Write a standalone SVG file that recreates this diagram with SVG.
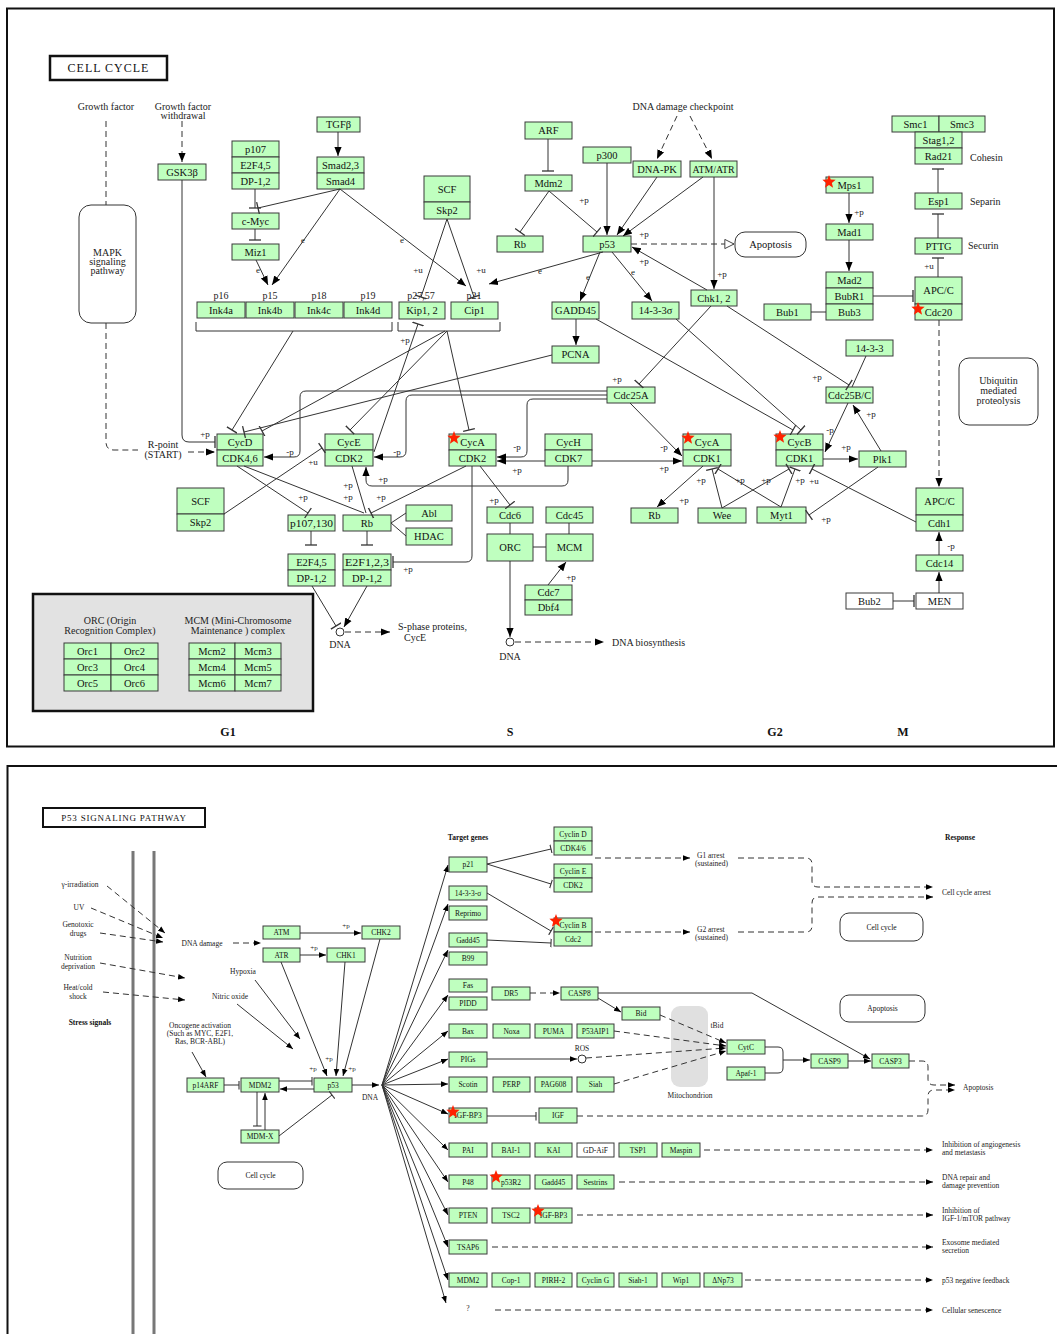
<svg xmlns="http://www.w3.org/2000/svg" xmlns:xlink="http://www.w3.org/1999/xlink" width="1057" height="1334" viewBox="0 0 1057 1334">
<style>
.g{fill:#bfffbf;stroke:#3a3a3a;stroke-width:1}
.w{fill:#fff;stroke:#3a3a3a;stroke-width:1}
.rb{fill:#fff;stroke:#333;stroke-width:1}
.t{font-family:"Liberation Serif",serif;font-size:10.5px;text-anchor:middle;dominant-baseline:central;fill:#111}
.u{font-family:"Liberation Serif",serif;font-size:7.5px;text-anchor:middle;dominant-baseline:central;fill:#111}
.tx{font-family:"Liberation Serif",serif;font-size:10px;text-anchor:middle;fill:#222}
.sx{font-family:"Liberation Serif",serif;font-size:7.5px;text-anchor:middle;fill:#222}
.sl{font-family:"Liberation Serif",serif;font-size:7.5px;text-anchor:start;fill:#222}
.lb{font-family:"Liberation Serif",serif;font-size:9px;text-anchor:middle;fill:#222}
.ph{font-family:"Liberation Serif",serif;font-size:12px;font-weight:bold;text-anchor:middle;fill:#111}
.bd{font-family:"Liberation Serif",serif;font-size:7.5px;font-weight:bold;text-anchor:middle;fill:#111}
#connectors path{fill:none;stroke:#333;stroke-width:1}
#connectors path.d{stroke-dasharray:6 4}
</style>
<defs>
<marker id="ar" viewBox="0 0 10 10" refX="10" refY="5" markerWidth="9" markerHeight="9" markerUnits="userSpaceOnUse" orient="auto"><path d="M0,1 L10,5 L0,9z" fill="#000"/></marker>
<marker id="ar2" viewBox="0 0 10 10" refX="10" refY="5" markerWidth="7" markerHeight="7" markerUnits="userSpaceOnUse" orient="auto"><path d="M0,1 L10,5 L0,9z" fill="#000"/></marker>
<marker id="br" viewBox="0 0 4 12" refX="2" refY="6" markerWidth="4" markerHeight="12" markerUnits="userSpaceOnUse" orient="auto"><path d="M2,0 V12" stroke="#333" stroke-width="1.3"/></marker>
<marker id="br2" viewBox="0 0 4 10" refX="2" refY="5" markerWidth="4" markerHeight="9" markerUnits="userSpaceOnUse" orient="auto"><path d="M2,0 V10" stroke="#333" stroke-width="1.2"/></marker>
<marker id="ho" viewBox="0 0 12 12" refX="11" refY="6" markerWidth="11" markerHeight="11" markerUnits="userSpaceOnUse" orient="auto"><path d="M1,1 L11,6 L1,11z" fill="#fff" stroke="#333" stroke-width="1"/></marker>
<polygon id="star" points="0,-7 1.76,-2.43 6.66,-2.16 2.85,0.93 4.11,5.66 0,3 -4.11,5.66 -2.85,0.93 -6.66,-2.16 -1.76,-2.43" fill="#ff2200"/>
</defs>
<rect width="1057" height="1334" fill="#fff"/>
<!-- frames -->
<rect x="7" y="8.5" width="1047" height="738" fill="none" stroke="#111" stroke-width="2"/>
<rect x="7.5" y="766" width="1052" height="580" fill="none" stroke="#111" stroke-width="2"/>

<!-- ===== TOP PANEL ===== -->
<g id="title-cellcycle"><rect x="50" y="56" width="117" height="24" fill="#fff" stroke="#111" stroke-width="2.5"/><text x="108.5" y="68" class="t" style="font-size:12px;letter-spacing:1px">CELL CYCLE</text></g>
<g id="labels-top">
<text class="tx" x="106" y="110">Growth factor</text>
<text class="tx" x="183" y="110">Growth factor</text>
<text class="tx" x="183" y="119">withdrawal</text>
<text class="tx" x="683" y="110">DNA damage checkpoint</text>
<text class="tx" x="163" y="448">R-point</text>
<text class="tx" x="163" y="458">(START)</text>
<text class="tx" x="970" y="161" style="text-anchor:start">Cohesin</text>
<text class="tx" x="970" y="205" style="text-anchor:start">Separin</text>
<text class="tx" x="968" y="249" style="text-anchor:start">Securin</text>
<text class="tx" x="221" y="299">p16</text><text class="tx" x="270" y="299">p15</text><text class="tx" x="319" y="299">p18</text><text class="tx" x="368" y="299">p19</text>
<text class="tx" x="421" y="299">p27,57</text><text class="tx" x="474" y="299">p21</text>
<text class="tx" x="398" y="630" style="text-anchor:start">S-phase proteins,</text>
<text class="tx" x="404" y="641" style="text-anchor:start">CycE</text>
<text class="tx" x="340" y="648">DNA</text>
<text class="tx" x="510" y="660">DNA</text>
<text class="tx" x="612" y="646" style="text-anchor:start">DNA biosynthesis</text>
<text class="ph" x="228" y="736">G1</text><text class="ph" x="510" y="736">S</text><text class="ph" x="775" y="736">G2</text><text class="ph" x="903" y="736">M</text>
</g>
<g id="mapk"><rect x="79" y="205" width="57" height="118" rx="12" class="rb"/><text class="tx" x="107.5" y="256">MAPK</text><text class="tx" x="107.5" y="265">signaling</text><text class="tx" x="107.5" y="274">pathway</text></g>
<g id="apoptosis-top"><rect x="735" y="232" width="71" height="25" rx="10" class="rb"/><text class="t" x="770.5" y="244.5">Apoptosis</text></g>
<g id="ubiquitin"><rect x="959" y="358" width="79" height="67" rx="10" class="rb"/><text class="tx" x="998.5" y="384">Ubiquitin</text><text class="tx" x="998.5" y="394">mediated</text><text class="tx" x="998.5" y="404">proteolysis</text></g>

<g id="gsk3b"><rect class="g" x="158" y="164" width="48" height="16"/><text class="t" x="182" y="172">GSK3β</text></g>
<g id="tgfb"><rect class="g" x="317" y="117" width="43" height="15"/><text class="t" x="338.5" y="124.5">TGFβ</text></g>
<g id="smad"><rect class="g" x="317" y="157" width="47" height="16"/><rect class="g" x="317" y="173" width="47" height="16"/><text class="t" x="340.5" y="165">Smad2,3</text><text class="t" x="340.5" y="181">Smad4</text></g>
<g id="p107"><rect class="g" x="232" y="141" width="47" height="16"/><rect class="g" x="232" y="157" width="47" height="16"/><rect class="g" x="232" y="173" width="47" height="16"/><text class="t" x="255.5" y="149">p107</text><text class="t" x="255.5" y="165">E2F4,5</text><text class="t" x="255.5" y="181">DP-1,2</text></g>
<g id="cmyc"><rect class="g" x="232" y="213" width="47" height="16"/><text class="t" x="255.5" y="221">c-Myc</text></g>
<g id="miz1"><rect class="g" x="232" y="244" width="47" height="16"/><text class="t" x="255.5" y="252">Miz1</text></g>
<g id="ink4"><rect class="g" x="197" y="302" width="48" height="16"/><rect class="g" x="246" y="302" width="48" height="16"/><rect class="g" x="295" y="302" width="48" height="16"/><rect class="g" x="344" y="302" width="48" height="16"/><text class="t" x="221" y="310">Ink4a</text><text class="t" x="270" y="310">Ink4b</text><text class="t" x="319" y="310">Ink4c</text><text class="t" x="368" y="310">Ink4d</text></g>
<g id="kip"><rect class="g" x="399" y="302" width="46" height="17"/><text class="t" x="422" y="310.5">Kip1, 2</text></g>
<g id="cip"><rect class="g" x="451" y="302" width="47" height="17"/><text class="t" x="474.5" y="310.5">Cip1</text></g>
<g id="scf-top"><rect class="g" x="424" y="176" width="46" height="26"/><rect class="g" x="424" y="202" width="46" height="17"/><text class="t" x="447" y="189">SCF</text><text class="t" x="447" y="210.5">Skp2</text></g>
<g id="arf"><rect class="g" x="525" y="122" width="47" height="17"/><text class="t" x="548.5" y="130.5">ARF</text></g>
<g id="mdm2"><rect class="g" x="525" y="175" width="47" height="16"/><text class="t" x="548.5" y="183">Mdm2</text></g>
<g id="rb-top"><rect class="g" x="497" y="236" width="46" height="16"/><text class="t" x="520" y="244">Rb</text></g>
<g id="p300"><rect class="g" x="583" y="147" width="48" height="16"/><text class="t" x="607" y="155">p300</text></g>
<g id="dnapk"><rect class="g" x="633" y="161" width="48" height="16"/><text class="t" x="657" y="169">DNA-PK</text></g>
<g id="atm-atr"><rect class="g" x="690" y="161" width="47" height="16"/><text class="t" x="713.5" y="169" textLength="42" lengthAdjust="spacingAndGlyphs">ATM/ATR</text></g>
<g id="p53"><rect class="g" x="583" y="236" width="48" height="16"/><text class="t" x="607" y="244">p53</text></g>
<g id="chk12"><rect class="g" x="691" y="290" width="46" height="16"/><text class="t" x="714" y="298">Chk1, 2</text></g>
<g id="gadd45"><rect class="g" x="552" y="302" width="47" height="17"/><text class="t" x="575.5" y="310.5">GADD45</text></g>
<g id="s1433s"><rect class="g" x="632" y="302" width="47" height="17"/><text class="t" x="655.5" y="310.5">14-3-3σ</text></g>
<g id="pcna"><rect class="g" x="552" y="346" width="47" height="17"/><text class="t" x="575.5" y="354.5">PCNA</text></g>
<g id="cdc25a"><rect class="g" x="607" y="387" width="48" height="16"/><text class="t" x="631" y="395">Cdc25A</text></g>
<g id="cycd"><rect class="g" x="217" y="434" width="46" height="16"/><rect class="g" x="217" y="450" width="46" height="16"/><text class="t" x="240" y="442">CycD</text><text class="t" x="240" y="458">CDK4,6</text></g>
<g id="cyce"><rect class="g" x="325" y="434" width="48" height="16"/><rect class="g" x="325" y="450" width="48" height="16"/><text class="t" x="349" y="442">CycE</text><text class="t" x="349" y="458">CDK2</text></g>
<g id="cyca-cdk2"><rect class="g" x="449" y="434" width="47" height="16"/><rect class="g" x="449" y="450" width="47" height="16"/><text class="t" x="472.5" y="442">CycA</text><text class="t" x="472.5" y="458">CDK2</text></g>
<g id="cych"><rect class="g" x="545" y="434" width="47" height="16"/><rect class="g" x="545" y="450" width="47" height="16"/><text class="t" x="568.5" y="442">CycH</text><text class="t" x="568.5" y="458">CDK7</text></g>
<g id="cyca-cdk1"><rect class="g" x="683" y="434" width="48" height="16"/><rect class="g" x="683" y="450" width="48" height="16"/><text class="t" x="707" y="442">CycA</text><text class="t" x="707" y="458">CDK1</text></g>
<g id="cycb"><rect class="g" x="776" y="434" width="47" height="16"/><rect class="g" x="776" y="450" width="47" height="16"/><text class="t" x="799.5" y="442">CycB</text><text class="t" x="799.5" y="458">CDK1</text></g>
<g id="plk1"><rect class="g" x="859" y="451" width="47" height="16"/><text class="t" x="882.5" y="459">Plk1</text></g>
<g id="scf-low"><rect class="g" x="177" y="488" width="47" height="26"/><rect class="g" x="177" y="514" width="47" height="17"/><text class="t" x="200.5" y="501">SCF</text><text class="t" x="200.5" y="522.5">Skp2</text></g>
<g id="p107130"><rect class="g" x="288" y="515" width="47" height="16"/><text class="t" x="311.5" y="523" textLength="43" lengthAdjust="spacingAndGlyphs">p107,130</text></g>
<g id="rb-mid"><rect class="g" x="343" y="515" width="48" height="16"/><text class="t" x="367" y="523">Rb</text></g>
<g id="abl"><rect class="g" x="406" y="505" width="46" height="16"/><text class="t" x="429" y="513">Abl</text></g>
<g id="hdac"><rect class="g" x="406" y="528" width="46" height="17"/><text class="t" x="429" y="536.5">HDAC</text></g>
<g id="e2f45"><rect class="g" x="288" y="554" width="47" height="16"/><rect class="g" x="288" y="570" width="47" height="16"/><text class="t" x="311.5" y="562">E2F4,5</text><text class="t" x="311.5" y="578">DP-1,2</text></g>
<g id="e2f123"><rect class="g" x="343" y="554" width="48" height="16"/><rect class="g" x="343" y="570" width="48" height="16"/><text class="t" x="367" y="562" textLength="44" lengthAdjust="spacingAndGlyphs">E2F1,2,3</text><text class="t" x="367" y="578">DP-1,2</text></g>
<g id="cdc6"><rect class="g" x="487" y="507" width="46" height="16"/><text class="t" x="510" y="515">Cdc6</text></g>
<g id="cdc45"><rect class="g" x="546" y="507" width="47" height="16"/><text class="t" x="569.5" y="515">Cdc45</text></g>
<g id="orc"><rect class="g" x="487" y="534" width="46" height="27"/><text class="t" x="510" y="547.5">ORC</text></g>
<g id="mcm"><rect class="g" x="546" y="534" width="47" height="27"/><text class="t" x="569.5" y="547.5">MCM</text></g>
<g id="cdc7"><rect class="g" x="525" y="585" width="47" height="15"/><rect class="g" x="525" y="600" width="47" height="15"/><text class="t" x="548.5" y="592.5">Cdc7</text><text class="t" x="548.5" y="607.5">Dbf4</text></g>
<g id="rb-right"><rect class="g" x="631" y="508" width="47" height="15"/><text class="t" x="654.5" y="515.5">Rb</text></g>
<g id="wee"><rect class="g" x="698" y="508" width="48" height="15"/><text class="t" x="722" y="515.5">Wee</text></g>
<g id="myt1"><rect class="g" x="757" y="507" width="49" height="16"/><text class="t" x="781.5" y="515">Myt1</text></g>
<g id="smc"><rect class="g" x="892" y="116" width="47" height="16"/><rect class="g" x="939" y="116" width="46" height="16"/><text class="t" x="915.5" y="124">Smc1</text><text class="t" x="962" y="124">Smc3</text></g>
<g id="stag"><rect class="g" x="915" y="132" width="47" height="16"/><rect class="g" x="915" y="148" width="47" height="16"/><text class="t" x="938.5" y="140">Stag1,2</text><text class="t" x="938.5" y="156">Rad21</text></g>
<g id="mps1"><rect class="g" x="826" y="177" width="47" height="16"/><text class="t" x="849.5" y="185">Mps1</text></g>
<g id="esp1"><rect class="g" x="915" y="193" width="47" height="16"/><text class="t" x="938.5" y="201">Esp1</text></g>
<g id="mad1"><rect class="g" x="826" y="224" width="47" height="16"/><text class="t" x="849.5" y="232">Mad1</text></g>
<g id="pttg"><rect class="g" x="915" y="238" width="47" height="16"/><text class="t" x="938.5" y="246">PTTG</text></g>
<g id="mad2"><rect class="g" x="826" y="272" width="47" height="16"/><rect class="g" x="826" y="288" width="47" height="16"/><rect class="g" x="826" y="304" width="47" height="16"/><text class="t" x="849.5" y="280">Mad2</text><text class="t" x="849.5" y="296">BubR1</text><text class="t" x="849.5" y="312">Bub3</text></g>
<g id="bub1"><rect class="g" x="764" y="304" width="47" height="16"/><text class="t" x="787.5" y="312">Bub1</text></g>
<g id="apcc-cdc20"><rect class="g" x="915" y="277" width="47" height="27"/><rect class="g" x="915" y="304" width="47" height="16"/><text class="t" x="938.5" y="290.5">APC/C</text><text class="t" x="938.5" y="312">Cdc20</text></g>
<g id="s1433"><rect class="g" x="846" y="340" width="47" height="16"/><text class="t" x="869.5" y="348">14-3-3</text></g>
<g id="cdc25bc"><rect class="g" x="826" y="387" width="47" height="16"/><text class="t" x="849.5" y="395" textLength="43" lengthAdjust="spacingAndGlyphs">Cdc25B/C</text></g>
<g id="apcc-cdh1"><rect class="g" x="916" y="488" width="47" height="27"/><rect class="g" x="916" y="515" width="47" height="16"/><text class="t" x="939.5" y="501.5">APC/C</text><text class="t" x="939.5" y="523">Cdh1</text></g>
<g id="cdc14"><rect class="g" x="916" y="555" width="47" height="16"/><text class="t" x="939.5" y="563">Cdc14</text></g>
<g id="men"><rect class="w" x="916" y="593" width="47" height="16"/><text class="t" x="939.5" y="601">MEN</text></g>
<g id="bub2"><rect class="w" x="846" y="593" width="47" height="16"/><text class="t" x="869.5" y="601">Bub2</text></g>
<g id="orc-mcm-panel">
<rect x="33" y="594" width="280" height="117" fill="#e2e2e2" stroke="#111" stroke-width="2.5"/>
<text class="tx" x="110" y="624">ORC (Origin</text><text class="tx" x="110" y="634">Recognition Complex)</text>
<text class="tx" x="238" y="624">MCM (Mini-Chromosome</text><text class="tx" x="238" y="634">Maintenance ) complex</text>
<rect class="g" x="64" y="643" width="47" height="16"/><rect class="g" x="111" y="643" width="47" height="16"/>
<rect class="g" x="64" y="659" width="47" height="16"/><rect class="g" x="111" y="659" width="47" height="16"/>
<rect class="g" x="64" y="675" width="47" height="16"/><rect class="g" x="111" y="675" width="47" height="16"/>
<text class="t" x="87.5" y="651">Orc1</text><text class="t" x="134.5" y="651">Orc2</text>
<text class="t" x="87.5" y="667">Orc3</text><text class="t" x="134.5" y="667">Orc4</text>
<text class="t" x="87.5" y="683">Orc5</text><text class="t" x="134.5" y="683">Orc6</text>
<rect class="g" x="189" y="643" width="46" height="16"/><rect class="g" x="235" y="643" width="46" height="16"/>
<rect class="g" x="189" y="659" width="46" height="16"/><rect class="g" x="235" y="659" width="46" height="16"/>
<rect class="g" x="189" y="675" width="46" height="16"/><rect class="g" x="235" y="675" width="46" height="16"/>
<text class="t" x="212" y="651">Mcm2</text><text class="t" x="258" y="651">Mcm3</text>
<text class="t" x="212" y="667">Mcm4</text><text class="t" x="258" y="667">Mcm5</text>
<text class="t" x="212" y="683">Mcm6</text><text class="t" x="258" y="683">Mcm7</text>
</g>

<!-- ===== BOTTOM PANEL nodes ===== -->
<g id="title-p53"><rect x="43" y="808" width="162" height="19" fill="#fff" stroke="#111" stroke-width="2"/><text class="u" x="124" y="817.5" style="font-size:9px;letter-spacing:0.8px">P53 SIGNALING PATHWAY</text></g>
<g id="membrane"><line x1="133" y1="851" x2="133" y2="1334" stroke="#777" stroke-width="3"/><line x1="154" y1="851" x2="154" y2="1334" stroke="#777" stroke-width="3"/></g>
<g id="labels-bottom">
<text class="sx" x="80" y="887">γ-irradiation</text>
<text class="sx" x="79" y="910">UV</text>
<text class="sx" x="78" y="927">Genotoxic</text><text class="sx" x="78" y="936">drugs</text>
<text class="sx" x="78" y="960">Nutrition</text><text class="sx" x="78" y="969">deprivation</text>
<text class="sx" x="78" y="990">Heat/cold</text><text class="sx" x="78" y="999">shock</text>
<text class="bd" x="90" y="1025">Stress signals</text>
<text class="sx" x="202" y="946">DNA damage</text>
<text class="sx" x="243" y="974">Hypoxia</text>
<text class="sx" x="230" y="999">Nitric oxide</text>
<text class="sx" x="200" y="1028">Oncogene activation</text><text class="sx" x="200" y="1036">(Such as MYC, E2F1,</text><text class="sx" x="200" y="1044">Ras, BCR-ABL)</text>
<text class="sx" x="370" y="1100">DNA</text>
<text class="bd" x="468" y="840">Target genes</text>
<text class="bd" x="960" y="840">Response</text>
<text class="sl" x="697" y="858">G1 arrest</text><text class="sl" x="695" y="866">(sustained)</text>
<text class="sl" x="697" y="932">G2 arrest</text><text class="sl" x="695" y="940">(sustained)</text>
<text class="sx" x="582" y="1051">ROS</text>
<text class="sx" x="717" y="1028">tBid</text>
<text class="sx" x="690" y="1098">Mitochondrion</text>
<text class="sx" x="468" y="1311">?</text>
<text class="sl" x="942" y="895">Cell cycle arrest</text>
<text class="sl" x="963" y="1090">Apoptosis</text>
<text class="sl" x="942" y="1147">Inhibition of angiogenesis</text><text class="sl" x="942" y="1155">and metastasis</text>
<text class="sl" x="942" y="1180">DNA repair and</text><text class="sl" x="942" y="1188">damage prevention</text>
<text class="sl" x="942" y="1213">Inhibition of</text><text class="sl" x="942" y="1221">IGF-1/mTOR pathway</text>
<text class="sl" x="942" y="1245">Exosome mediated</text><text class="sl" x="942" y="1253">secretion</text>
<text class="sl" x="942" y="1283">p53 negative feedback</text>
<text class="sl" x="942" y="1313">Cellular senescence</text>
</g>
<g id="mitochondrion"><rect x="671" y="1006" width="37" height="81" rx="9" fill="#e0e0e0"/></g>
<g id="cellcycle-r"><rect x="840" y="913" width="83" height="28" rx="9" class="rb"/><text class="u" x="881.5" y="927">Cell cycle</text></g>
<g id="apoptosis-r"><rect x="840" y="995" width="85" height="27" rx="9" class="rb"/><text class="u" x="882.5" y="1008.5">Apoptosis</text></g>
<g id="cellcycle-l"><rect x="218" y="1162" width="85" height="27" rx="9" class="rb"/><text class="u" x="260.5" y="1175.5">Cell cycle</text></g>
<g id="b-atm"><rect class="g" x="263" y="926" width="37" height="13"/><text class="u" x="281.5" y="932.5">ATM</text></g>
<g id="b-chk2"><rect class="g" x="362" y="926" width="38" height="13"/><text class="u" x="381" y="932.5">CHK2</text></g>
<g id="b-atr"><rect class="g" x="263" y="948" width="37" height="14"/><text class="u" x="281.5" y="955">ATR</text></g>
<g id="b-chk1"><rect class="g" x="327" y="948" width="38" height="14"/><text class="u" x="346" y="955">CHK1</text></g>
<g id="b-p14arf"><rect class="g" x="187" y="1078" width="37" height="14"/><text class="u" x="205.5" y="1085">p14ARF</text></g>
<g id="b-mdm2"><rect class="g" x="241" y="1078" width="38" height="14"/><text class="u" x="260" y="1085">MDM2</text></g>
<g id="b-p53"><rect class="g" x="314" y="1078" width="38" height="14"/><text class="u" x="333" y="1085">p53</text></g>
<g id="b-mdmx"><rect class="g" x="241" y="1130" width="38" height="13"/><text class="u" x="260" y="1136.5">MDM-X</text></g>
<g id="b-p21"><rect class="g" x="449" y="857" width="38" height="15"/><text class="u" x="468" y="864.5">p21</text></g>
<g id="b-cycd"><rect class="g" x="554" y="827" width="38" height="14"/><rect class="g" x="554" y="841" width="38" height="14"/><text class="u" x="573" y="834">Cyclin D</text><text class="u" x="573" y="848">CDK4/6</text></g>
<g id="b-cyce"><rect class="g" x="554" y="864" width="38" height="14"/><rect class="g" x="554" y="878" width="38" height="14"/><text class="u" x="573" y="871">Cyclin E</text><text class="u" x="573" y="885">CDK2</text></g>
<g id="b-1433"><rect class="g" x="449" y="886" width="38" height="14"/><text class="u" x="468" y="893">14-3-3-σ</text></g>
<g id="b-reprimo"><rect class="g" x="449" y="906" width="38" height="14"/><text class="u" x="468" y="913">Reprimo</text></g>
<g id="b-gadd45"><rect class="g" x="449" y="933" width="38" height="14"/><text class="u" x="468" y="940">Gadd45</text></g>
<g id="b-b99"><rect class="g" x="449" y="952" width="38" height="13"/><text class="u" x="468" y="958.5">B99</text></g>
<g id="b-cycb"><rect class="g" x="554" y="918" width="38" height="14"/><rect class="g" x="554" y="932" width="38" height="14"/><text class="u" x="573" y="925">Cyclin B</text><text class="u" x="573" y="939">Cdc2</text></g>
<g id="b-fas"><rect class="g" x="449" y="979" width="38" height="13"/><text class="u" x="468" y="985.5">Fas</text></g>
<g id="b-pidd"><rect class="g" x="449" y="997" width="38" height="13"/><text class="u" x="468" y="1003.5">PIDD</text></g>
<g id="b-dr5"><rect class="g" x="492" y="987" width="38" height="13"/><text class="u" x="511" y="993.5">DR5</text></g>
<g id="b-casp8"><rect class="g" x="561" y="987" width="37" height="13"/><text class="u" x="579.5" y="993.5">CASP8</text></g>
<g id="b-bid"><rect class="g" x="622" y="1007" width="38" height="13"/><text class="u" x="641" y="1013.5">Bid</text></g>
<g id="b-bax"><rect class="g" x="449" y="1024" width="38" height="14"/><text class="u" x="468" y="1031">Bax</text></g>
<g id="b-noxa"><rect class="g" x="493" y="1024" width="37" height="14"/><text class="u" x="511.5" y="1031">Noxa</text></g>
<g id="b-puma"><rect class="g" x="535" y="1024" width="37" height="14"/><text class="u" x="553.5" y="1031">PUMA</text></g>
<g id="b-p53aip1"><rect class="g" x="577" y="1024" width="37" height="14"/><text class="u" x="595.5" y="1031">P53AIP1</text></g>
<g id="b-pigs"><rect class="g" x="449" y="1052" width="38" height="15"/><text class="u" x="468" y="1059.5">PIGs</text></g>
<g id="b-scotin"><rect class="g" x="449" y="1077" width="38" height="15"/><text class="u" x="468" y="1084.5">Scotin</text></g>
<g id="b-perp"><rect class="g" x="493" y="1077" width="37" height="15"/><text class="u" x="511.5" y="1084.5">PERP</text></g>
<g id="b-pag608"><rect class="g" x="535" y="1077" width="37" height="15"/><text class="u" x="553.5" y="1084.5">PAG608</text></g>
<g id="b-siah"><rect class="g" x="577" y="1077" width="37" height="15"/><text class="u" x="595.5" y="1084.5">Siah</text></g>
<g id="b-cytc"><rect class="g" x="727" y="1040" width="38" height="14"/><text class="u" x="746" y="1047">CytC</text></g>
<g id="b-apaf1"><rect class="g" x="727" y="1067" width="38" height="13"/><text class="u" x="746" y="1073.5">Apaf-1</text></g>
<g id="b-casp9"><rect class="g" x="811" y="1054" width="37" height="14"/><text class="u" x="829.5" y="1061">CASP9</text></g>
<g id="b-casp3"><rect class="g" x="872" y="1054" width="37" height="14"/><text class="u" x="890.5" y="1061">CASP3</text></g>
<g id="b-igfbp3"><rect class="g" x="449" y="1108" width="38" height="15"/><text class="u" x="468" y="1115.5">IGF-BP3</text></g>
<g id="b-igf"><rect class="g" x="539" y="1108" width="38" height="15"/><text class="u" x="558" y="1115.5">IGF</text></g>
<g id="b-pai"><rect class="g" x="449" y="1143" width="38" height="14"/><text class="u" x="468" y="1150">PAI</text></g>
<g id="b-bai1"><rect class="g" x="492" y="1143" width="38" height="14"/><text class="u" x="511" y="1150">BAI-1</text></g>
<g id="b-kai"><rect class="g" x="535" y="1143" width="37" height="14"/><text class="u" x="553.5" y="1150">KAI</text></g>
<g id="b-gdaif"><rect class="w" x="577" y="1143" width="37" height="14"/><text class="u" x="595.5" y="1150">GD-AiF</text></g>
<g id="b-tsp1"><rect class="g" x="619" y="1143" width="38" height="14"/><text class="u" x="638" y="1150">TSP1</text></g>
<g id="b-maspin"><rect class="g" x="662" y="1143" width="38" height="14"/><text class="u" x="681" y="1150">Maspin</text></g>
<g id="b-p48"><rect class="g" x="449" y="1175" width="38" height="14"/><text class="u" x="468" y="1182">P48</text></g>
<g id="b-p53r2"><rect class="g" x="492" y="1175" width="38" height="14"/><text class="u" x="511" y="1182">p53R2</text></g>
<g id="b-gadd45b"><rect class="g" x="535" y="1175" width="37" height="14"/><text class="u" x="553.5" y="1182">Gadd45</text></g>
<g id="b-sestrins"><rect class="g" x="577" y="1175" width="37" height="14"/><text class="u" x="595.5" y="1182">Sestrins</text></g>
<g id="b-pten"><rect class="g" x="449" y="1208" width="38" height="15"/><text class="u" x="468" y="1215.5">PTEN</text></g>
<g id="b-tsc2"><rect class="g" x="492" y="1208" width="38" height="15"/><text class="u" x="511" y="1215.5">TSC2</text></g>
<g id="b-igfbp3b"><rect class="g" x="535" y="1208" width="37" height="15"/><text class="u" x="553.5" y="1215.5">IGF-BP3</text></g>
<g id="b-tsap6"><rect class="g" x="449" y="1240" width="38" height="14"/><text class="u" x="468" y="1247">TSAP6</text></g>
<g id="b-mdm2b"><rect class="g" x="449" y="1273" width="38" height="14"/><text class="u" x="468" y="1280">MDM2</text></g>
<g id="b-cop1"><rect class="g" x="492" y="1273" width="38" height="14"/><text class="u" x="511" y="1280">Cop-1</text></g>
<g id="b-pirh2"><rect class="g" x="535" y="1273" width="37" height="14"/><text class="u" x="553.5" y="1280">PIRH-2</text></g>
<g id="b-cycg"><rect class="g" x="577" y="1273" width="37" height="14"/><text class="u" x="595.5" y="1280">Cyclin G</text></g>
<g id="b-siah1"><rect class="g" x="619" y="1273" width="38" height="14"/><text class="u" x="638" y="1280">Siah-1</text></g>
<g id="b-wip1"><rect class="g" x="662" y="1273" width="38" height="14"/><text class="u" x="681" y="1280">Wip1</text></g>
<g id="b-dnp73"><rect class="g" x="704" y="1273" width="38" height="14"/><text class="u" x="723" y="1280">ΔNp73</text></g>

<!-- ===== CONNECTORS ===== -->
<g id="connectors">
<path class="d" d="M106,121 V205"/>
<path class="d" d="M106,323 V442 Q106,450 114,450 H138"/>
<path class="d" d="M188,452 H215" marker-end="url(#ar)"/>
<path class="d" d="M182,121 V162" marker-end="url(#ar)"/>
<path d="M182,180 V435 Q182,442 189,442 H215" marker-end="url(#br)"/>
<path d="M338,132 V156" marker-end="url(#ar)"/>
<path d="M340,189 L258,208" marker-end="url(#br)"/>
<path d="M255,189 V208" marker-end="url(#br)"/>
<path d="M255,229 V240" marker-end="url(#br)"/>
<path d="M256,260 L268,285" marker-end="url(#ar)"/>
<path d="M340,189 L272,285" marker-end="url(#ar)"/>
<path d="M340,189 L466,286" marker-end="url(#ar)"/>
<path d="M447,219 L421,297" marker-end="url(#br)"/>
<path d="M447,219 L474,297" marker-end="url(#br)"/>
<path d="M548,139 V171" marker-end="url(#br)"/>
<path d="M549,191 L520,232" marker-end="url(#br)"/>
<path d="M549,191 L597,232" marker-end="url(#br)"/>
<path d="M607,163 V235" marker-end="url(#ar)"/>
<path class="d" d="M677,116 L657,159" marker-end="url(#ar)"/>
<path class="d" d="M690,116 L712,159" marker-end="url(#ar)"/>
<path d="M657,177 L617,235" marker-end="url(#ar)"/>
<path d="M703,177 L623,236" marker-end="url(#ar)"/>
<path d="M714,177 V289" marker-end="url(#ar)"/>
<path d="M707,290 L632,247" marker-end="url(#ar)"/>
<path class="d" d="M631,244 H734" marker-end="url(#ho)"/>
<path d="M603,252 L489,284" marker-end="url(#ar)"/>
<path d="M600,252 L580,301" marker-end="url(#ar)"/>
<path d="M612,252 L652,301" marker-end="url(#ar)"/>
<path d="M576,319 V345" marker-end="url(#ar)"/>
<path d="M711,306 L639,384" marker-end="url(#br)"/>
<path d="M727,306 L849,385" marker-end="url(#br)"/>
<path d="M596,319 L793,430" marker-end="url(#br)"/>
<path d="M676,319 L801,430" marker-end="url(#br)"/>
<path d="M866,356 L852,387"/>
<path d="M848,403 L825,452" marker-end="url(#ar)"/>
<path d="M881,451 L853,405" marker-end="url(#ar)"/>
<path d="M823,459 H858" marker-end="url(#ar)"/>
<path d="M878,467 L809,515" marker-end="url(#br)"/>
<path d="M916,522 L812,469" marker-end="url(#br)"/>
<path d="M939,555 V532" marker-end="url(#ar)"/>
<path d="M939,593 V572" marker-end="url(#ar)"/>
<path d="M893,601 H914" marker-end="url(#br)"/>
<path class="d" d="M939,320 V487" marker-end="url(#ar)"/>
<path d="M938,193 V169" marker-end="url(#br)"/>
<path d="M938,238 V214" marker-end="url(#br)"/>
<path d="M938,277 V258" marker-end="url(#br)"/>
<path d="M849,193 V223" marker-end="url(#ar)"/>
<path d="M849,240 V271" marker-end="url(#ar)"/>
<path d="M811,312 H826"/>
<path d="M873,296 H913" marker-end="url(#br)"/>
<path d="M630,403 L682,456" marker-end="url(#ar)"/>
<path d="M592,461 H682" marker-end="url(#ar)"/>
<path d="M545,461 H497" marker-end="url(#ar)"/>
<path d="M568,466 V480 Q568,486 562,486 H372 Q366,486 366,480 V467" marker-end="url(#ar)"/>
<path d="M607,399 H533 Q527,399 527,405 V451 Q527,457 521,457 H497" marker-end="url(#ar)"/>
<path d="M607,395 H412 Q406,395 406,401 V451 Q406,457 400,457 H374" marker-end="url(#ar)"/>
<path d="M607,391 H306 Q300,391 300,397 V451 Q300,457 294,457 H264" marker-end="url(#ar)"/>
<path d="M703,466 L657,507" marker-end="url(#ar)"/>
<path d="M722,508 L712,469" marker-end="url(#br)"/>
<path d="M722,508 L789,469" marker-end="url(#br)"/>
<path d="M781,507 L718,469" marker-end="url(#br)"/>
<path d="M781,507 L795,469" marker-end="url(#br)"/>
<path d="M480,466 L510,505" marker-end="url(#br)"/>
<path d="M472,466 V556 Q472,562 466,562 H393" marker-end="url(#br)"/>
<path d="M466,466 L371,513" marker-end="url(#br)"/>
<path d="M352,466 L366,513"/>
<path d="M244,466 L364,513"/>
<path d="M237,466 L308,513" marker-end="url(#br)"/>
<path d="M224,514 L322,448" marker-end="url(#br)"/>
<path d="M391,523 L406,513"/>
<path d="M391,523 L406,536"/>
<path d="M311,531 V545" marker-end="url(#br)"/>
<path d="M367,531 V545" marker-end="url(#br)"/>
<path d="M312,586 L336,626" marker-end="url(#br)"/>
<path d="M367,586 L344,627" marker-end="url(#ar)"/>
<path class="d" d="M345,632 H390" marker-end="url(#ar)"/>
<path d="M510,561 V637" marker-end="url(#ar)"/>
<path class="d" d="M515,642 H604" marker-end="url(#ar)"/>
<path d="M510,523 V534"/>
<path d="M569,523 V534"/>
<path d="M533,547 H546"/>
<path d="M548,585 L566,562" marker-end="url(#ar)"/>
<path d="M196,322 V331 H392 V322"/>
<path d="M398,322 V331 H500 V322"/>
<path d="M293,331 L232,430" marker-end="url(#br)"/>
<path d="M445,331 L262,431" marker-end="url(#br)"/>
<path d="M552,355 L244,432" marker-end="url(#br)"/>
<path d="M447,331 L350,430" marker-end="url(#br)"/>
<path d="M447,331 L469,430" marker-end="url(#br)"/>
<path d="M374,452 L418,324" marker-end="url(#br)"/>
<!-- bottom -->
<path class="d" d="M107,886 L165,933" marker-end="url(#ar2)"/>
<path class="d" d="M91,908 L163,938" marker-end="url(#ar2)"/>
<path class="d" d="M100,933 L163,942" marker-end="url(#ar2)"/>
<path class="d" d="M100,963 L185,978" marker-end="url(#ar2)"/>
<path class="d" d="M103,992 L185,1000" marker-end="url(#ar2)"/>
<path class="d" d="M233,943 H261" marker-end="url(#ar2)"/>
<path d="M300,933 H361" marker-end="url(#ar2)"/>
<path d="M300,955 H326" marker-end="url(#ar2)"/>
<path d="M255,980 L300,1039" marker-end="url(#ar2)"/>
<path d="M237,1004 L293,1049" marker-end="url(#ar2)"/>
<path d="M192,1052 L206,1077" marker-end="url(#ar2)"/>
<path d="M281,962 L327,1076" marker-end="url(#ar2)"/>
<path d="M345,962 L336,1076" marker-end="url(#ar2)"/>
<path d="M380,939 L343,1076" marker-end="url(#ar2)"/>
<path d="M224,1085 H239" marker-end="url(#br2)"/>
<path d="M279,1081 H312" marker-end="url(#br2)"/>
<path d="M314,1089 H280" marker-end="url(#ar2)"/>
<path d="M257,1092 V1126" marker-end="url(#br2)"/>
<path d="M265,1130 V1093" marker-end="url(#ar2)"/>
<path d="M279,1136 L332,1095" marker-end="url(#br2)"/>
<path d="M352,1085 H379" marker-end="url(#ar2)"/>
<path d="M382,1085 L448,865" marker-end="url(#ar2)"/>
<path d="M382,1085 L448,904" marker-end="url(#ar2)"/>
<path d="M382,1085 L448,950" marker-end="url(#ar2)"/>
<path d="M382,1085 L448,995" marker-end="url(#ar2)"/>
<path d="M382,1085 L448,1031" marker-end="url(#ar2)"/>
<path d="M382,1085 L448,1059" marker-end="url(#ar2)"/>
<path d="M382,1085 L448,1084" marker-end="url(#ar2)"/>
<path d="M382,1085 L448,1114" marker-end="url(#ar2)"/>
<path d="M382,1085 L448,1150" marker-end="url(#ar2)"/>
<path d="M382,1085 L448,1182" marker-end="url(#ar2)"/>
<path d="M382,1085 L448,1215" marker-end="url(#ar2)"/>
<path d="M382,1085 L448,1247" marker-end="url(#ar2)"/>
<path d="M382,1085 L448,1280" marker-end="url(#ar2)"/>
<path d="M382,1085 L446,1303" marker-end="url(#ar2)"/>
<path d="M487,864 L551,849" marker-end="url(#br2)"/>
<path d="M487,864 L551,884" marker-end="url(#br2)"/>
<path d="M487,893 L551,931" marker-end="url(#br2)"/>
<path d="M487,940 L551,943" marker-end="url(#br2)"/>
<path class="d" d="M595,858 H690" marker-end="url(#ar2)"/>
<path class="d" d="M595,932 H690" marker-end="url(#ar2)"/>
<path class="d" d="M738,858 H806 Q812,858 812,864 V881 Q812,887 818,887 H933" marker-end="url(#ar2)"/>
<path class="d" d="M738,932 H806 Q812,932 812,926 V903 Q812,897 818,897 H933" marker-end="url(#ar2)"/>
<path class="d" d="M530,993 H560" marker-end="url(#ar2)"/>
<path d="M598,998 L621,1012" marker-end="url(#ar2)"/>
<path d="M598,993 H752 L870,1059" marker-end="url(#ar2)"/>
<path class="d" d="M660,1015 L726,1043" marker-end="url(#ar2)"/>
<path class="d" d="M614,1031 L726,1046" marker-end="url(#ar2)"/>
<path d="M487,1059 H577" marker-end="url(#ar2)"/>
<path class="d" d="M586,1058 L726,1048" marker-end="url(#ar2)"/>
<path class="d" d="M614,1084 L726,1051" marker-end="url(#ar2)"/>
<path d="M765,1047 H778 Q783,1047 783,1052 V1068 Q783,1073 778,1073 H765"/>
<path d="M783,1060 H810" marker-end="url(#ar2)"/>
<path d="M848,1061 H871" marker-end="url(#ar2)"/>
<path class="d" d="M909,1061 H922 Q928,1061 928,1067 V1079 Q928,1085 934,1085 H955" marker-end="url(#ar2)"/>
<path class="d" d="M577,1116 H922 Q928,1116 928,1110 V1096 Q928,1090 934,1090 H955" marker-end="url(#ar2)"/>
<path d="M487,1116 H536" marker-end="url(#br2)"/>
<path class="d" d="M704,1150 H933" marker-end="url(#ar2)"/>
<path class="d" d="M619,1182 H933" marker-end="url(#ar2)"/>
<path class="d" d="M577,1215 H933" marker-end="url(#ar2)"/>
<path class="d" d="M492,1247 H933" marker-end="url(#ar2)"/>
<path class="d" d="M745,1280 H933" marker-end="url(#ar2)"/>
<path class="d" d="M495,1310 H933" marker-end="url(#ar2)"/>
</g>
<g id="small-circles" fill="#fff" stroke="#333"><circle cx="340" cy="632" r="4"/><circle cx="510" cy="642" r="4"/><circle cx="582" cy="1059" r="4"/></g>
<g id="edge-labels" class="lb">
<text x="205" y="437">+p</text><text x="584" y="203">+p</text><text x="644" y="237">+p</text><text x="644" y="264">+p</text><text x="722" y="277">+p</text>
<text x="617" y="382">+p</text><text x="817" y="380">+p</text><text x="830" y="433">-p</text><text x="871" y="417">+p</text><text x="846" y="450">+p</text>
<text x="826" y="522">+p</text><text x="814" y="484">+u</text><text x="951" y="549">-p</text><text x="929" y="269">+u</text><text x="859" y="215">+p</text>
<text x="664" y="450">-p</text><text x="664" y="471">+p</text><text x="517" y="450">-p</text><text x="517" y="473">+p</text><text x="383" y="482">+p</text>
<text x="397" y="455">-p</text><text x="290" y="455">-p</text><text x="684" y="503">+p</text><text x="701" y="483">+p</text><text x="740" y="483">+p</text>
<text x="766" y="483">+p</text><text x="800" y="483">+p</text><text x="494" y="503">+p</text><text x="408" y="572">+p</text><text x="381" y="500">+p</text>
<text x="348" y="488">+p</text><text x="348" y="500">+p</text><text x="303" y="500">+p</text><text x="313" y="465">+u</text><text x="405" y="343">+p</text>
<text x="418" y="273">+u</text><text x="481" y="273">+u</text><text x="571" y="580">+p</text>
<text x="258" y="273">e</text><text x="303" y="243">e</text><text x="402" y="243">e</text><text x="540" y="274">e</text><text x="588" y="280">e</text><text x="633" y="275">e</text>
<text x="346" y="928" style="font-size:7px">+p</text><text x="314" y="950" style="font-size:7px">+p</text>
<text x="313" y="1071" style="font-size:7px">+p</text><text x="329" y="1061" style="font-size:7px">+p</text><text x="352" y="1071" style="font-size:7px">+p</text>
</g>
<g id="stars">
<use href="#star" x="829" y="182"/><use href="#star" x="918" y="309"/><use href="#star" x="454" y="438"/><use href="#star" x="688" y="438"/><use href="#star" x="780" y="437"/>
<use href="#star" x="556" y="921"/><use href="#star" x="453" y="1112"/><use href="#star" x="496" y="1177"/><use href="#star" x="538" y="1211"/>
</g>
</svg>
